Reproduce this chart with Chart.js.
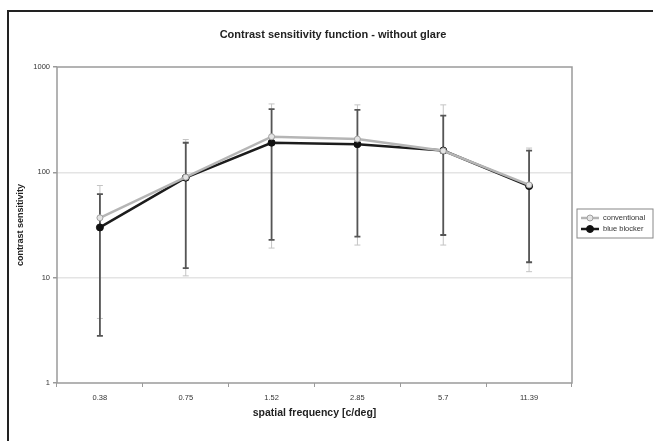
<!DOCTYPE html>
<html lang="en">
<head>
  <meta charset="UTF-8">
  <title>Contrast sensitivity function - without glare</title>
  <script src="https://cdn.jsdelivr.net/npm/chart.js"></script>
  <style>
    body {
      margin: 0;
      background: #fff;
    }
    #wrap {
      position: relative;
      width: 660px;
      height: 441px;
    }
    #frame {
      position: absolute;
      left: 7px;
      top: 10px;
      width: 646px;
      height: 440px;
      border-top: 2px solid #222;
      border-left: 2px solid #222;
      box-sizing: border-box;
    }
    canvas {
      position: absolute;
      left: 0;
      top: 0;
    }
  </style>
</head>
<body>
  <div id="wrap">
    <div id="frame"></div>
    <canvas id="csfChart" width="660" height="441"></canvas>
  </div>

  <script>
    // spatial frequencies [c/deg]
    const categories = ['0.38', '0.75', '1.52', '2.85', '5.7', '11.39'];
    const yTicks = [1, 10, 100, 1000];

    // conventional IOL
    const conventional = [37, 90, 218, 207, 160, 76];
    const conventionalHigh = [75, 205, 446, 437, 437, 170];
    const conventionalLow = [4.1, 10.4, 19.1, 20.4, 20.4, 11.4];

    // blue blocker IOL
    const blueBlocker = [30, 89, 191, 185, 161, 74];
    const blueBlockerHigh = [62, 191, 398, 391, 346, 161];
    const blueBlockerLow = [2.8, 12.3, 22.8, 24.5, 25.4, 14];

    const chartTitle = 'Contrast sensitivity function - without glare';
    const FONT = "'Liberation Sans', Arial, sans-serif";

    // vertical error bars drawn from the y scale
    const errorBars = {
      id: 'errorBars',
      beforeDatasetsDraw(chart) {
        const { ctx, scales: { x, y } } = chart;
        chart.data.datasets.forEach(ds => {
          ctx.save();
          ctx.strokeStyle = ds.errorColor;
          ctx.lineWidth = ds.errorWidth;
          ds.errorLow.forEach((lo, j) => {
            const px = x.getPixelForValue(j);
            const top = y.getPixelForValue(ds.errorHigh[j]);
            const bot = y.getPixelForValue(lo);
            ctx.beginPath();
            ctx.moveTo(px, top);
            ctx.lineTo(px, bot);
            ctx.moveTo(px - 3, top);
            ctx.lineTo(px + 3, top);
            ctx.moveTo(px - 3, bot);
            ctx.lineTo(px + 3, bot);
            ctx.stroke();
          });
          ctx.restore();
        });
      }
    };

    // grey border round the plot area
    const plotFrame = {
      id: 'plotFrame',
      beforeDatasetsDraw(chart) {
        const { ctx, chartArea: a } = chart;
        ctx.save();
        ctx.strokeStyle = '#9a9a9a';
        ctx.lineWidth = 1.5;
        ctx.strokeRect(a.left, a.top, a.right - a.left, a.bottom - a.top);
        ctx.restore();
      }
    };

    // title centred on the whole page, as in the spreadsheet export
    const pageTitle = {
      id: 'pageTitle',
      afterDraw(chart) {
        const { ctx } = chart;
        ctx.save();
        ctx.font = 'bold 11px ' + FONT;
        ctx.fillStyle = '#222';
        ctx.textAlign = 'center';
        ctx.textBaseline = 'middle';
        ctx.fillText(chartTitle, 333, 35);
        ctx.restore();
      }
    };

    // boxed legend right of the plot
    const boxLegend = {
      id: 'boxLegend',
      afterDraw(chart) {
        const { ctx, chartArea: a } = chart;
        const left = a.right + 5, top = 209, w = 76, h = 29;
        ctx.save();
        ctx.strokeStyle = '#888';
        ctx.lineWidth = 1;
        ctx.strokeRect(left, top, w, h);
        ctx.font = '7.5px ' + FONT;
        ctx.textBaseline = 'middle';
        chart.data.datasets.forEach((ds, i) => {
          const cy = top + 9 + i * 11;
          ctx.strokeStyle = ds.borderColor;
          ctx.lineWidth = ds.borderWidth;
          ctx.beginPath();
          ctx.moveTo(left + 4, cy);
          ctx.lineTo(left + 22, cy);
          ctx.stroke();
          ctx.beginPath();
          ctx.arc(left + 13, cy, ds.pointRadius, 0, Math.PI * 2);
          ctx.fillStyle = ds.pointBackgroundColor;
          ctx.fill();
          ctx.lineWidth = 1;
          ctx.strokeStyle = ds.pointBorderColor;
          ctx.stroke();
          ctx.fillStyle = '#333';
          ctx.fillText(ds.label, left + 26, cy);
        });
        ctx.restore();
      }
    };

    new Chart(document.getElementById('csfChart'), {
      type: 'line',
      data: {
        labels: categories,
        datasets: [{
          label: 'conventional',
          data: conventional,
          errorHigh: conventionalHigh,
          errorLow: conventionalLow,
          errorColor: '#c4c4c4',
          errorWidth: 1,
          borderColor: '#b5b5b5',
          borderWidth: 2.5,
          pointRadius: 3,
          pointBackgroundColor: '#e4e4e4',
          pointBorderColor: '#a0a0a0',
          pointBorderWidth: 1,
          tension: 0
        }, {
          label: 'blue blocker',
          data: blueBlocker,
          errorHigh: blueBlockerHigh,
          errorLow: blueBlockerLow,
          errorColor: '#555',
          errorWidth: 1.8,
          borderColor: '#1c1c1c',
          borderWidth: 2.5,
          pointRadius: 3.5,
          pointBackgroundColor: '#111',
          pointBorderColor: '#111',
          pointBorderWidth: 1,
          tension: 0
        }]
      },
      options: {
        responsive: false,
        animation: false,
        layout: { padding: { left: 0, right: 88, top: 67, bottom: 0 } },
        plugins: {
          legend: { display: false },
          tooltip: { enabled: false },
          title: { display: false }
        },
        scales: {
          x: {
            type: 'category',
            offset: true,
            border: { display: false },
            grid: {
              offset: true,
              drawOnChartArea: false,
              tickLength: 4,
              color: '#9a9a9a'
            },
            ticks: {
              color: '#333',
              padding: 6,
              maxRotation: 0,
              font: { family: FONT, size: 7.5 }
            },
            title: {
              display: true,
              text: 'spatial frequency [c/deg]',
              color: '#222',
              font: { family: FONT, size: 10.5, weight: 'bold' },
              padding: { top: 0, bottom: 22 }
            },
            afterFit(scale) { scale.height = 58; }
          },
          y: {
            type: 'logarithmic',
            min: 1,
            max: 1000,
            border: { display: false },
            grid: {
              color: ctx => (ctx.tick && (ctx.tick.value === 10 || ctx.tick.value === 100)) ? '#e4e4e4' : 'rgba(0,0,0,0)',
              lineWidth: 1.5,
              tickLength: 4,
              tickColor: '#9a9a9a'
            },
            afterBuildTicks(scale) {
              scale.ticks = yTicks.map(v => ({ value: v }));
            },
            ticks: {
              color: '#333',
              padding: 3,
              font: { family: FONT, size: 7.5 },
              callback: v => String(v)
            },
            title: {
              display: true,
              text: 'contrast sensitivity',
              color: '#222',
              font: { family: FONT, size: 9, weight: 'bold' },
              padding: { top: 15, bottom: 0 }
            },
            afterFit(scale) { scale.width = 57; }
          }
        }
      },
      plugins: [plotFrame, errorBars, pageTitle, boxLegend]
    });
  </script>
</body>
</html>
